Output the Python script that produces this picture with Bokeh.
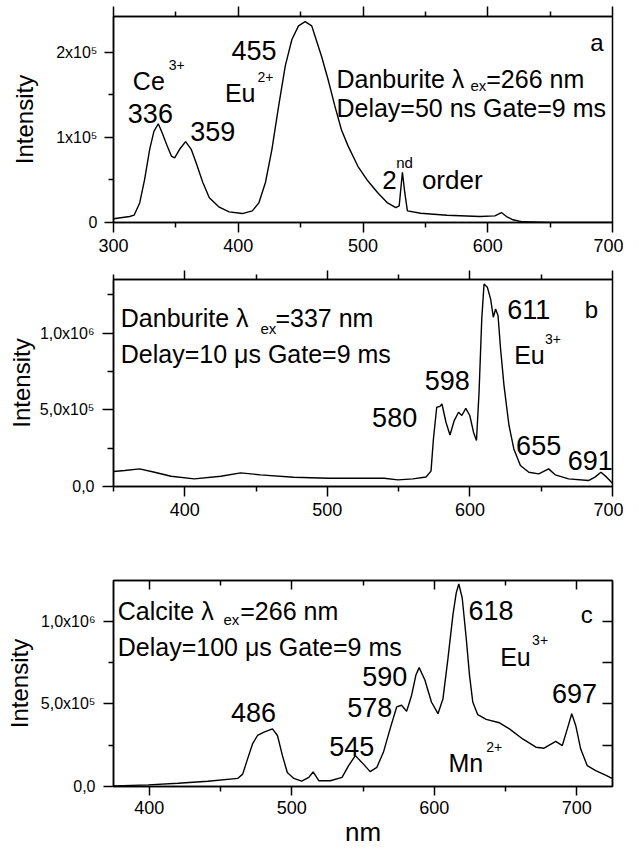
from bokeh.plotting import figure
from bokeh.models import LinearAxis, FixedTicker, Label, Range1d
from bokeh.layouts import column
from bokeh.embed import file_html
from bokeh.resources import INLINE

FONT = "Liberation Sans"

# ---------------- data ----------------
# Panel a: Danburite, excitation 266 nm, delay 50 ns
a_nm = [300, 301.4, 313, 316.5, 321, 325, 329, 332.4, 335.9, 339, 342.5, 346.4, 349, 353,
        357.8, 362.3, 366.3, 371.6, 376.8, 384.8, 392.7, 403.3, 411.3, 416.5, 421.8, 427,
        432.4, 437.7, 443, 448.3, 453.6, 458.9, 461.5, 466.8, 472, 477.4, 482.7, 488, 495.9,
        503.8, 511.8, 519.7, 526.3, 529, 531.6, 533.5, 535.6, 546.2, 567.3, 593.8, 605.7,
        611, 615, 620.2, 628, 650, 700]
a_int = [4000, 4700, 7000, 8600, 23000, 51000, 86000, 107000, 116000, 105500, 92000, 78000,
         76000, 86000, 95000, 86000, 70000, 47000, 29000, 18000, 12500, 10500, 13700, 23000,
         47000, 86000, 137000, 184000, 215000, 231000, 236000, 231000, 219000, 195000, 168000,
         137000, 109000, 90000, 66000, 49000, 35000, 23000, 17600, 19500, 59000, 35000, 13700,
         10900, 8600, 7000, 7800, 11700, 7000, 3200, 800, 200, 0]

# Panel b: Danburite, excitation 337 nm, delay 10 us
b_nm = [350, 357.9, 368.3, 378.8, 390.4, 406.7, 425.3, 439.2, 453.1, 476.3, 500.7, 539.8,
        549.5, 560, 569.2, 572.7, 574.4, 576.7, 579, 580.4, 583.2, 586, 589, 592, 594.3,
        597.1, 599.9, 602.5, 604.6, 606.4, 608.3, 609.9, 612.2, 614.5, 616.4, 618, 619.7,
        621.5, 623.9, 627.4, 630.8, 635.4, 641.3, 648.3, 655.2, 659.8, 669.2, 683.1, 687.7,
        691.9, 695.9, 699.3, 700]
b_int = [98000, 104000, 115000, 93000, 67000, 50000, 67000, 89000, 76000, 60000, 54000,
         54000, 43000, 50000, 62000, 100000, 310000, 517000, 523000, 538000, 419000, 336000,
         430000, 484000, 463000, 510000, 463000, 354000, 300000, 615000, 1093000, 1321000,
         1300000, 1223000, 1104000, 1158000, 1115000, 897000, 658000, 398000, 245000, 137000,
         93000, 82000, 115000, 76000, 50000, 39000, 61000, 93000, 61000, 28000, 20000]

# Panel c: Calcite, excitation 266 nm, delay 100 us
c_nm = [375, 375.7, 399.4, 420.3, 441.2, 462.1, 465.6, 469, 472.5, 476, 480.6, 486.5, 490,
        493.5, 496.9, 501.5, 507, 512, 515, 519, 527.1, 535.3, 539.9, 544.6, 549.2, 555,
        559.7, 564.3, 569, 573.6, 577.1, 580.6, 584.1, 587.1, 589.4, 593.4, 598, 602.6,
        606.1, 609.6, 613.1, 615.4, 617.2, 619.6, 622.4, 624.7, 627, 630.5, 636.4, 645.7,
        652.7, 662, 671.3, 677, 685.2, 689.8, 693.3, 696.4, 699.2, 702.7, 707.3, 713.2,
        720.1, 724.7, 725]
c_int = [3000, 4000, 10000, 20000, 32000, 49000, 75000, 166000, 258000, 309000, 329000,
         349000, 309000, 187000, 85000, 49000, 33000, 55000, 88000, 35000, 35000, 55000,
         126000, 187000, 146000, 90000, 116000, 207000, 349000, 482000, 492000, 455000,
         553000, 675000, 720000, 645000, 512000, 441000, 532000, 776000, 1041000, 1173000,
         1227000, 1142000, 898000, 675000, 512000, 435000, 407000, 386000, 349000, 288000,
         238000, 232000, 273000, 248000, 349000, 441000, 370000, 227000, 126000, 96000,
         69000, 49000, 47000]

# tick values and labels
a_xticks = [300, 400, 500, 600, 700]
a_xminor = [350, 450, 550, 650]
a_yticks = [0, 100000, 200000]
a_yminor = [50000, 150000]
a_ylabels = {0: "0", 100000: "1x10\u2075", 200000: "2x10\u2075"}

b_xticks = [400, 500, 600, 700]
b_xminor = [350, 450, 550, 650]
b_yticks = [0, 500000, 1000000]
b_yminor = [250000, 750000, 1250000]
b_ylabels = {0: "0,0", 500000: "5,0x10\u2075", 1000000: "1,0x10\u2076"}

c_xticks = [400, 500, 600, 700]
c_xminor = [450, 550, 650]
c_yticks = [0, 500000, 1000000]
c_yminor = [250000, 750000]
c_rticks = [250000, 500000, 750000, 1000000]
c_ylabels = {0: "0,0", 500000: "5,0x10\u2075", 1000000: "1,0x10\u2076"}

# annotations: (text, x, y, font size px)
a_notes = [("Ce", 315.5, 166500, 25), ("3+", 344.2, 185200, 14),
           ("336", 311.5, 127800, 27), ("359", 361.5, 106700, 27),
           ("455", 394.6, 202500, 27), ("Eu", 389.3, 152400, 25), ("2+", 415.5, 171200, 14),
           ("Danburite \u03bb", 478.7, 168800, 25), ("ex", 586.1, 160600, 15),
           ("=266 nm", 598.8, 168800, 25),
           ("Delay=50 ns Gate=9 ms", 478.7, 134800, 25),
           ("a", 682.1, 211000, 24),
           ("2", 515.5, 50400, 26), ("nd", 526.6, 70300, 15), ("order", 547.2, 50400, 26)]
b_notes = [("Danburite \u03bb", 355.1, 1097000, 25), ("ex", 453.1, 1032000, 15),
           ("=337 nm", 463.6, 1097000, 25),
           ("Delay=10 \u03bcs Gate=9 ms", 355.1, 862000, 25),
           ("611", 626.2, 1157000, 27), ("b", 680.5, 1157000, 24),
           ("Eu", 631.0, 856000, 25), ("3+", 652.6, 960000, 14),
           ("598", 568.3, 693000, 27), ("580", 531.4, 452000, 27),
           ("655", 632.4, 269000, 27), ("691", 668.6, 172000, 27)]
c_notes = [("Calcite \u03bb", 378.0, 1061000, 25), ("ex", 452.1, 1012000, 15),
           ("=266 nm", 463.9, 1061000, 25),
           ("Delay=100 \u03bcs Gate=9 ms", 378.0, 848000, 25),
           ("486", 457.4, 451000, 27), ("618", 624.0, 1067000, 27), ("c", 702.7, 1043000, 24),
           ("Eu", 646.2, 787000, 25), ("3+", 668.6, 890000, 14),
           ("590", 549.4, 665000, 27), ("578", 539.0, 476000, 27),
           ("697", 682.5, 561000, 27), ("545", 526.3, 244000, 27),
           ("Mn", 610.0, 140000, 25), ("2+", 636.5, 238000, 14)]


def make_fig(xr, yr, w, h, bl, br, bt, bb):
    p = figure(width=w, height=h, x_range=Range1d(*xr), y_range=Range1d(*yr),
               output_backend="svg", toolbar_location=None,
               min_border_left=bl, min_border_right=br,
               min_border_top=bt, min_border_bottom=bb)
    p.grid.visible = False
    p.outline_line_color = "black"
    p.outline_line_width = 1.5
    p.background_fill_color = "white"
    p.border_fill_color = "white"
    return p


def style(ax, mj_in, mj_out, mn_in, mn_out, size=None, standoff=6):
    ax.axis_line_width = 1.5
    ax.axis_line_color = "black"
    ax.major_tick_line_width = 1.5
    ax.minor_tick_line_width = 1.5
    ax.major_tick_line_color = "black"
    ax.minor_tick_line_color = "black"
    ax.major_tick_in = mj_in
    ax.major_tick_out = mj_out
    ax.minor_tick_in = mn_in
    ax.minor_tick_out = mn_out
    if size is None:
        # tick-only mirror axis: labels are not drawn at all
        ax.major_label_text_color = None
        ax.major_label_text_font_size = "0px"
        ax.major_label_standoff = 0
    else:
        ax.major_label_text_font = FONT
        ax.major_label_text_font_size = size
        ax.major_label_text_color = "black"
        ax.major_label_standoff = standoff


def ylab(ax, standoff):
    ax.axis_label = "Intensity"
    ax.axis_label_text_font = FONT
    ax.axis_label_text_font_size = "24px"
    ax.axis_label_text_font_style = "normal"
    ax.axis_label_text_color = "black"
    ax.axis_label_standoff = standoff


def notes(p, items):
    for t, x, y, s in items:
        p.add_layout(Label(x=x, y=y, text=t, text_font=FONT, text_font_size=f"{s}px",
                           text_color="black", text_align="left",
                           text_baseline="alphabetic"))


# ---------------- panel a ----------------
pa = make_fig((300, 700), (0, 242000), 623, 260, 108, 11, 16, 38)
pa.line(a_nm, a_int, line_color="black", line_width=1.4)
ax = pa.below[0]
ax.ticker = FixedTicker(ticks=a_xticks, minor_ticks=a_xminor)
style(ax, 0, 10, 0, 5, "18px", 6)
ay = pa.left[0]
ay.ticker = FixedTicker(ticks=a_yticks, minor_ticks=a_yminor)
ay.major_label_overrides = a_ylabels
style(ay, 0, 9, 0, 5, "16px", 7)
ylab(ay, 15)
top_a = LinearAxis(ticker=FixedTicker(ticks=a_xticks, minor_ticks=a_xminor))
style(top_a, 0, 10, 0, 5)
pa.add_layout(top_a, "above")
notes(pa, a_notes)

# ---------------- panel b ----------------
pb = make_fig((350, 700), (0, 1350000), 623, 264, 111, 9, 19, 38)
pb.line(b_nm, b_int, line_color="black", line_width=1.4)
bx = pb.below[0]
bx.ticker = FixedTicker(ticks=b_xticks, minor_ticks=b_xminor)
style(bx, 0, 10, 0, 5, "18px", 6)
by = pb.left[0]
by.ticker = FixedTicker(ticks=b_yticks, minor_ticks=b_yminor)
by.major_label_overrides = b_ylabels
style(by, 0, 11, 0, 6, "16px", 8)
ylab(by, 2)
top_b = LinearAxis(ticker=FixedTicker(ticks=b_xticks, minor_ticks=b_xminor))
style(top_b, 0, 9, 0, 5)
pb.add_layout(top_b, "above")
notes(pb, b_notes)

# ---------------- panel c ----------------
pc = make_fig((375, 725), (0, 1248000), 623, 325, 113, 6, 56, 63)
pc.line(c_nm, c_int, line_color="black", line_width=1.4)
cx = pc.below[0]
cx.ticker = FixedTicker(ticks=c_xticks, minor_ticks=c_xminor)
style(cx, 0, 9, 0, 5, "18px", 5)
cx.axis_label = "nm"
cx.axis_label_text_font = FONT
cx.axis_label_text_font_size = "26px"
cx.axis_label_text_font_style = "normal"
cx.axis_label_text_color = "black"
cx.axis_label_standoff = 0
cy = pc.left[0]
cy.ticker = FixedTicker(ticks=c_yticks, minor_ticks=c_yminor)
cy.major_label_overrides = c_ylabels
style(cy, 0, 10, 0, 5, "16px", 8)
ylab(cy, 5)
top_c = LinearAxis(ticker=FixedTicker(ticks=c_xticks, minor_ticks=c_xminor))
style(top_c, 9, 0, 5, 0)
pc.add_layout(top_c, "above")
right_c = LinearAxis(ticker=FixedTicker(ticks=c_rticks))
style(right_c, 10, 0, 0, 0)
pc.add_layout(right_c, "right")
notes(pc, c_notes)

layout = column(pa, pb, pc)
open("out.html", "w").write(file_html(layout, INLINE))
